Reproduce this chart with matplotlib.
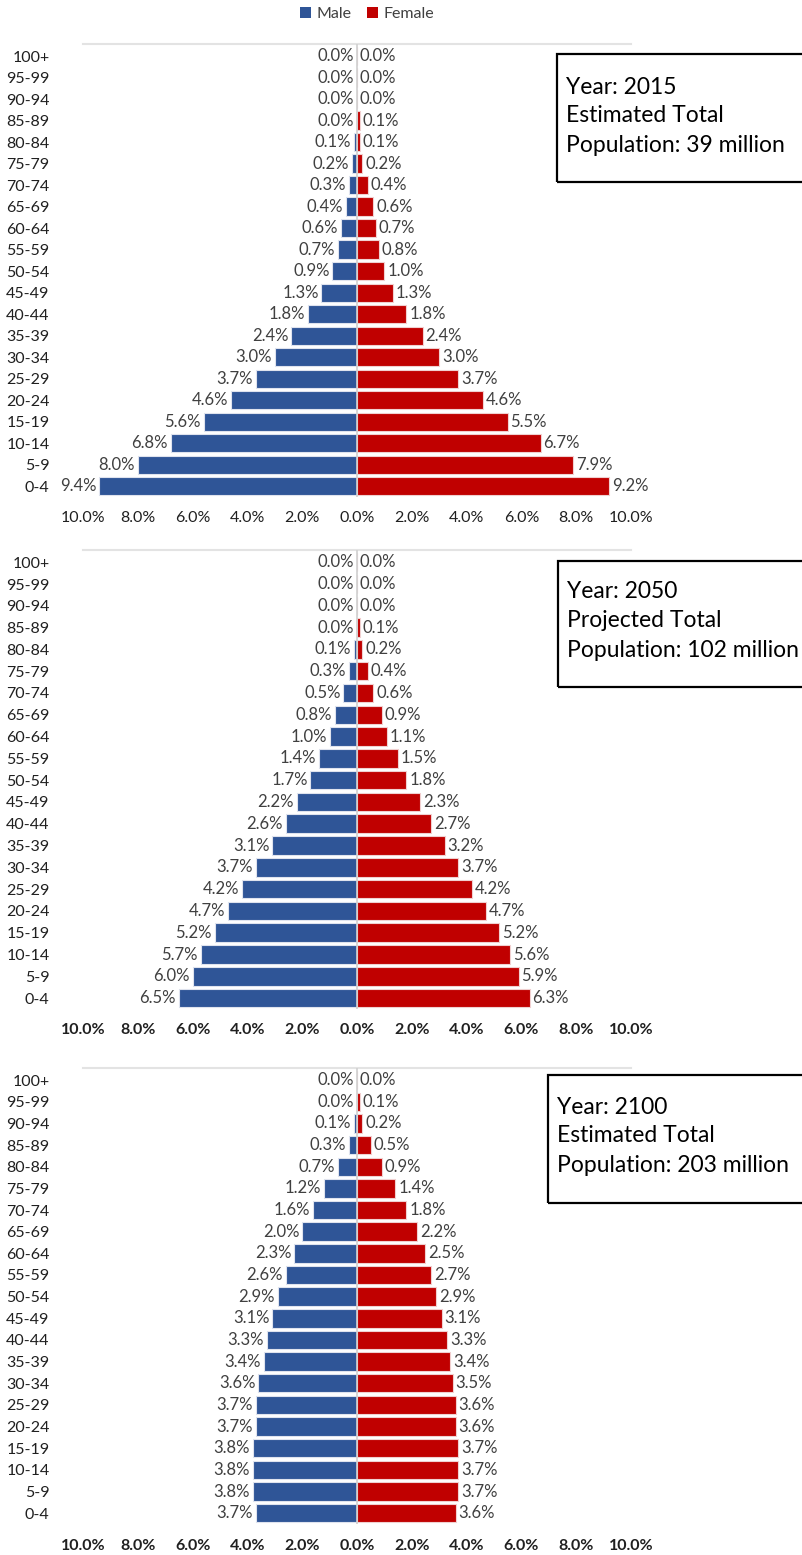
import numpy as np
import matplotlib.pyplot as plt
from matplotlib.patches import Rectangle, Patch

plt.rcParams['font.family'] = ['Lato', 'DejaVu Sans']

# age groups, youngest first (bottom of each pyramid)
age_groups = ['0-4', '5-9', '10-14', '15-19', '20-24', '25-29', '30-34', '35-39',
              '40-44', '45-49', '50-54', '55-59', '60-64', '65-69', '70-74',
              '75-79', '80-84', '85-89', '90-94', '95-99', '100+']

male_2015 = [9.4, 8.0, 6.8, 5.6, 4.6, 3.7, 3.0, 2.4, 1.8, 1.3, 0.9, 0.7, 0.6,
             0.4, 0.3, 0.2, 0.1, 0.0, 0.0, 0.0, 0.0]
female_2015 = [9.2, 7.9, 6.7, 5.5, 4.6, 3.7, 3.0, 2.4, 1.8, 1.3, 1.0, 0.8, 0.7,
               0.6, 0.4, 0.2, 0.1, 0.1, 0.0, 0.0, 0.0]

male_2050 = [6.5, 6.0, 5.7, 5.2, 4.7, 4.2, 3.7, 3.1, 2.6, 2.2, 1.7, 1.4, 1.0,
             0.8, 0.5, 0.3, 0.1, 0.0, 0.0, 0.0, 0.0]
female_2050 = [6.3, 5.9, 5.6, 5.2, 4.7, 4.2, 3.7, 3.2, 2.7, 2.3, 1.8, 1.5, 1.1,
               0.9, 0.6, 0.4, 0.2, 0.1, 0.0, 0.0, 0.0]

male_2100 = [3.7, 3.8, 3.8, 3.8, 3.7, 3.7, 3.6, 3.4, 3.3, 3.1, 2.9, 2.6, 2.3,
             2.0, 1.6, 1.2, 0.7, 0.3, 0.1, 0.0, 0.0]
female_2100 = [3.6, 3.7, 3.7, 3.7, 3.6, 3.6, 3.5, 3.4, 3.3, 3.1, 2.9, 2.7, 2.5,
               2.2, 1.8, 1.4, 0.9, 0.5, 0.2, 0.1, 0.0]

box_texts = ['Year: 2015\nEstimated Total\nPopulation: 39 million',
             'Year: 2050\nProjected Total\nPopulation: 102 million',
             'Year: 2100\nEstimated Total\nPopulation: 203 million']

x_ticks = [-10, -8, -6, -4, -2, 0, 2, 4, 6, 8, 10]

MALE_C = '#2F5597'
FEMALE_C = '#C00000'

W, H = 803, 1555
fig = plt.figure(figsize=(W / 100, H / 100), dpi=100)

# (top px, bottom px, box rect px (left, top, bottom), text px (left, first line y), bold ticks, tick pad)
panels = [
    (male_2015, female_2015, 44, 497, (557, 54, 182), (566, 87), False, 10),
    (male_2050, female_2050, 550, 1009, (558, 561, 687), (567, 592), True, 10),
    (male_2100, female_2100, 1068, 1524, (548, 1075, 1203), (557, 1107), True, 11),
]

ax_left, ax_right = 83, 631
y = np.arange(len(age_groups))

for (male, female, top, bot, box, txt, bold, tpad), label in zip(panels, box_texts):
    ax = fig.add_axes([ax_left / W, 1 - bot / H, (ax_right - ax_left) / W, (bot - top) / H])
    male = np.array(male)
    female = np.array(female)
    ax.barh(y, -male, height=0.85, color=MALE_C, edgecolor='#dfe3ee', linewidth=0.8, zorder=2)
    ax.barh(y, female, height=0.85, color=FEMALE_C, edgecolor='#f0d0d0', linewidth=0.8, zorder=2)
    ax.axvline(0, color='#d0d0d0', lw=1.2, zorder=3)

    for yi, m, f in zip(y, male, female):
        ax.annotate(f'{m:.1f}%', (-m, yi), xytext=(-2, 0), textcoords='offset points',
                    ha='right', va='center', fontsize=12, color='#404040')
        ax.annotate(f'{f:.1f}%', (f, yi), xytext=(2, 0), textcoords='offset points',
                    ha='left', va='center', fontsize=12, color='#404040')

    ax.set_xlim(-10, 10)
    ax.set_ylim(-0.5, 20.56)
    ax.set_yticks(y)
    ax.set_yticklabels(age_groups, fontsize=11.5, color='#202020')
    ax.set_xticks(x_ticks)
    ax.set_xticklabels([f'{abs(t):.1f}%' for t in x_ticks], fontsize=11.5, color='#202020',
                       fontweight='bold' if bold else 'normal')
    ax.tick_params(axis='y', length=0, pad=24)
    ax.tick_params(axis='x', length=0, pad=tpad)
    for s in ['left', 'right', 'bottom']:
        ax.spines[s].set_visible(False)
    ax.spines['top'].set_color('#e3e3e3')
    ax.spines['top'].set_linewidth(1.5)

    bl, bt, bb = box
    fig.patches.append(Rectangle((bl / W, 1 - bb / H), (W + 10 - bl) / W, (bb - bt) / H,
                                 transform=fig.transFigure, fill=False,
                                 edgecolor='black', linewidth=1.6, clip_on=False))
    lines = label.split('\n')
    for i, line in enumerate(lines):
        fig.text(txt[0] / W, 1 - (txt[1] + 29 * i) / H, line, fontsize=16.5,
                 ha='left', va='center', color='black')

handles = [Patch(facecolor=MALE_C, label='Male'), Patch(facecolor=FEMALE_C, label='Female')]
fig.legend(handles=handles, loc='center', bbox_to_anchor=(367 / W, 1 - 14 / H), ncol=2,
           frameon=False, fontsize=11.5, handlelength=0.65, handleheight=0.65,
           handletextpad=0.35, columnspacing=1.0, labelcolor='#404040')

fig.savefig('out.png', dpi=100)
